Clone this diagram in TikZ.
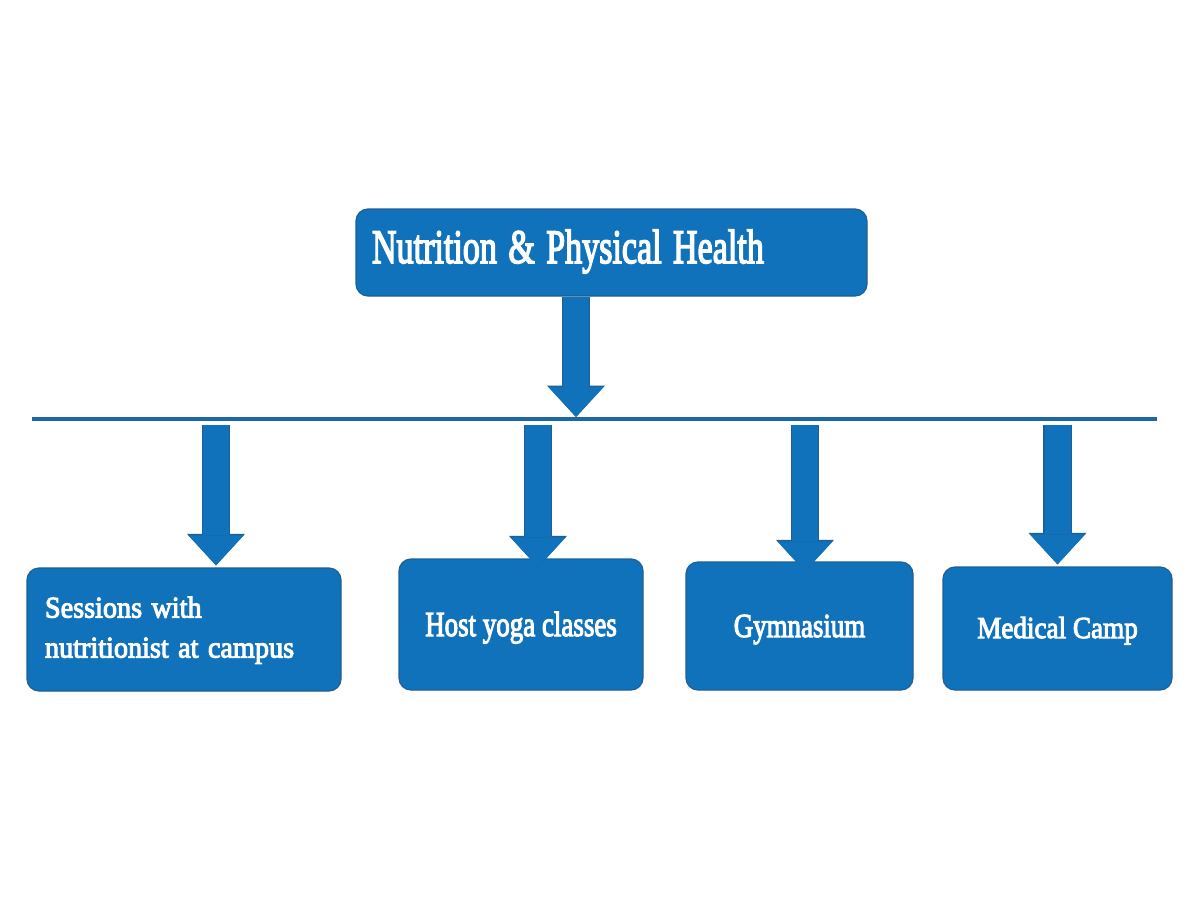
\documentclass[tikz,border=0pt]{standalone}
\usepackage{fontspec}
\setmainfont{Liberation Serif}
\newfontfamily\semib[FakeBold=3.5]{Liberation Serif}
\usetikzlibrary{arrows.meta,calc}
\definecolor{boxblue}{RGB}{16,114,187}
\definecolor{boxedge}{RGB}{30,95,150}
\definecolor{barblue}{RGB}{28,104,164}
\begin{document}
\begin{tikzpicture}[x=1pt,y=-1pt,
  box/.style={draw=boxedge,line width=1.2pt,fill=boxblue,rounded corners=12pt,
    text=white,inner sep=0pt},
  blockarrow/.style={draw=boxblue,line width=26pt,
    -{Triangle[width=55pt,length=30pt,line width=0pt]},
    preaction={draw=boxedge,line width=28.4pt,
      -{Triangle[width=58pt,length=31.5pt,line width=0pt]}}}]
\fill[white] (0,0) rectangle (1200,900);
\useasboundingbox (0,0) rectangle (1200,900);

\node[box,minimum width=511pt,minimum height=87pt,text width=479pt,align=left,
  font=\fontsize{48}{52}\selectfont\semib,text height=30pt,text depth=9pt] (top) at (611.5,252.5)
  {\scalebox{0.71}[1]{Nutrition \& Physical Health}};

\node[box,minimum width=314pt,minimum height=123pt,text width=278pt,align=left,
  font=\fontsize{30}{40}\selectfont\semib] (b1) at (184,629.5)
  {\scalebox{0.94}[1]{\begin{tabular}{@{}l@{}}Sessions with\\nutritionist at campus\end{tabular}}};
\node[box,minimum width=244pt,minimum height=131pt,align=center,
  font=\fontsize{35}{40}\selectfont\semib,text height=26pt,text depth=3pt] (b2) at (521,624.5)
  {\scalebox{0.77}[1]{Host yoga classes}};
\node[box,minimum width=227pt,minimum height=128pt,align=center,
  font=\fontsize{33.6}{40}\selectfont\semib,text height=25pt,text depth=3pt] (b3) at (799.5,626)
  {\scalebox{0.8}[1]{Gymnasium}};
\node[box,minimum width=229pt,minimum height=123pt,align=center,
  font=\fontsize{30.5}{40}\selectfont\semib,text height=23pt,text depth=4pt] (b4) at (1057.5,628.5)
  {\scalebox{0.89}[1]{Medical Camp}};

\coordinate (barL) at (32,419);
\coordinate (barR) at (1157,419);
\draw[line width=4pt,draw=barblue] (barL) -- (barR);

\coordinate (j0) at (576,417);
\draw[blockarrow] (j0 |- top.south) -- (j0);

\coordinate (s1) at (216,425);
\coordinate (s2) at (538,425);
\coordinate (s3) at (805,425);
\coordinate (s4) at (1057.5,425);
\draw[blockarrow] (s1) -- ($(s1 |- b1.north)+(0,-2)$);
\draw[blockarrow] (s2) -- ($(s2 |- b2.north)+(0,9)$);
\draw[blockarrow] (s3) -- ($(s3 |- b3.north)+(0,10)$);
\draw[blockarrow] (s4) -- ($(s4 |- b4.north)+(0,-2)$);
\end{tikzpicture}
\end{document}
